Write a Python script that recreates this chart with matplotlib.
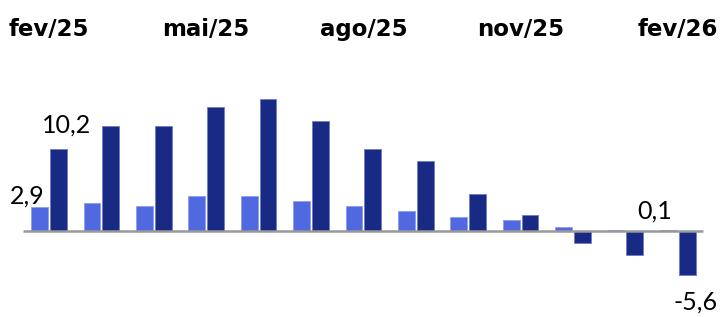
import matplotlib
matplotlib.use("Agg")
import matplotlib.pyplot as plt
import numpy as np

months = ["fev/25", "mar/25", "abr/25", "mai/25", "jun/25", "jul/25", "ago/25",
          "set/25", "out/25", "nov/25", "dez/25", "jan/26", "fev/26"]
serie_clara = [2.9, 3.4, 3.1, 4.3, 4.3, 3.7, 3.1, 2.5, 1.65, 1.3, 0.4, 0.1, 0.1]
serie_escura = [10.2, 13.1, 13.1, 15.5, 16.4, 13.7, 10.2, 8.7, 4.6, 1.9, -1.6, -3.1, -5.6]
top_labels = ["fev/25", "mai/25", "ago/25", "nov/25", "fev/26"]

light_color = "#5068E0"
dark_color = "#182A84"
font = "Lato"

fig = plt.figure(figsize=(7.22, 3.17), dpi=100)
ax = fig.add_axes([0, 0, 1, 1])
x = np.arange(len(months))
w = 0.32
off = 0.18
ax.bar(x - off, serie_clara, width=w, color=light_color, edgecolor="#8C9CF0", linewidth=0.6, zorder=2)
ax.bar(x + off, serie_escura, width=w, color=dark_color, edgecolor="#6C7CC8", linewidth=0.6, zorder=2)

# px mapping: group i center at 49 + 52.4*i, figure width 722
ax.set_xlim(-49 / 52.4, (722 - 49) / 52.4)
# y: zero at 230.5 px from top, 8 px per unit, fig height 317
ax.set_ylim(-(317 - 230.5) / 8.0, 230.5 / 8.0)
ax.axis("off")

# zero line
x0 = ax.get_xlim()[0] + 23 / 52.4
x1 = ax.get_xlim()[0] + 703 / 52.4
ax.plot([x0, x1], [0, 0], color="#999999", lw=1.8, zorder=3, solid_capstyle="butt")

fs = 18
def fmt(v):
    return f"{v:.1f}".replace(".", ",")

ax.annotate(fmt(serie_clara[0]), (x[0] - off, serie_clara[0]), xytext=(-9, 0),
            textcoords="offset points", ha="center", va="bottom", fontsize=fs, family=font)
ax.annotate(fmt(serie_escura[0]), (x[0] + off, serie_escura[0]), xytext=(6, 9),
            textcoords="offset points", ha="center", va="bottom", fontsize=fs, family=font)
ax.annotate(fmt(serie_clara[-1]), (x[-1] - off, serie_clara[-1]), xytext=(-10, 5),
            textcoords="offset points", ha="center", va="bottom", fontsize=fs, family=font)
ax.annotate(fmt(serie_escura[-1]), (x[-1] + off, serie_escura[-1]), xytext=(6, -11),
            textcoords="offset points", ha="center", va="top", fontsize=fs, family=font)

# top labels at their month groups
for lab in top_labels:
    ax.text(months.index(lab), 1 - 36 / 317, lab, ha="center", va="baseline", fontsize=16.5,
            fontweight="bold", family="DejaVu Sans", transform=ax.get_xaxis_transform())

fig.savefig("out.png", dpi=100)
